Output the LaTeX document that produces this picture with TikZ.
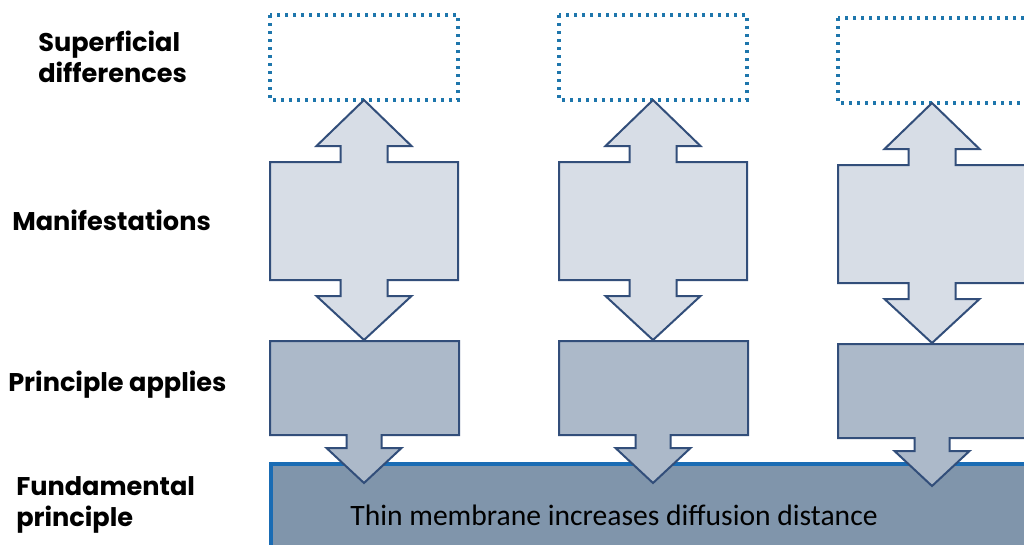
\documentclass[tikz,border=0pt]{standalone}
\usepackage{fontspec}
\newfontfamily\labfont{Poppins}
\newfontfamily\bandfont{Carlito}
\definecolor{dotblue}{RGB}{30,118,172}
\definecolor{navy}{RGB}{50,78,122}
\definecolor{manfill}{RGB}{215,221,230}
\definecolor{prinfill}{RGB}{172,185,201}
\definecolor{bandfill}{RGB}{128,149,171}
\definecolor{bandline}{RGB}{26,108,180}
\tikzset{
  dotbox/.style={draw=dotblue, line width=2.3pt, dash pattern=on 2.6pt off 3.4pt, fill=white},
  manshape/.style={draw=navy, line width=1.5pt, fill=manfill, line join=miter},
  prinshape/.style={draw=navy, line width=1.5pt, fill=prinfill, line join=miter},
  band/.style={draw=bandline, line width=3pt, fill=bandfill},
  lab/.style={anchor=west, align=left, inner sep=0pt, font=\labfont\bfseries\fontsize{19.2}{23.5}\selectfont},
}
\newcommand\mycolumn[2]{%
  % #1 = centre x, #2 = vertical offset
  \begin{scope}[shift={(#1,#2)}]
    \draw[dotbox] (-94,15) rectangle (94,100);
    \draw[manshape] (0,100) -- (47.5,146) -- (23.5,146) -- (23.5,162) -- (94,162) -- (94,280)
      -- (23.5,280) -- (23.5,296) -- (47.5,296) -- (0,340) -- (-47.5,296) -- (-23.5,296)
      -- (-23.5,280) -- (-94,280) -- (-94,162) -- (-23.5,162) -- (-23.5,146) -- (-47.5,146) -- cycle;
  \end{scope}}
\newcommand\myprin[2]{%
  \begin{scope}[shift={(#1,#2)}]
    \draw[prinshape] (-94,341) -- (95,341) -- (95,435) -- (17.5,435) -- (17.5,448) -- (37.5,448)
      -- (0,483) -- (-37.5,448) -- (-17.5,448) -- (-17.5,435) -- (-94,435) -- cycle;
  \end{scope}}
\begin{document}
\begin{tikzpicture}[x=0.75pt,y=-0.75pt]
\useasboundingbox (0,0) rectangle (1024,544);
\fill[white] (0,0) rectangle (1024,544);
\draw[band] (271,463.5) rectangle (1040,560);
\node[inner sep=0pt, font=\bandfont\fontsize{22.2}{26}\selectfont] (bandtext) at (614,515) {Thin membrane increases diffusion distance};
\mycolumn{364}{0}
\mycolumn{653}{0}
\mycolumn{932}{3}
\myprin{364}{0}
\myprin{653}{0}
\myprin{932}{3}
\node[lab] (sup) at (38,57) {Superficial\\differences};
\node[lab] (man) at (12,220) {Manifestations};
\node[lab] (pri) at (8,385) {Principle applies};
\node[lab] (fun) at (16,505) {Fundamental\\principle};
\end{tikzpicture}
\end{document}
